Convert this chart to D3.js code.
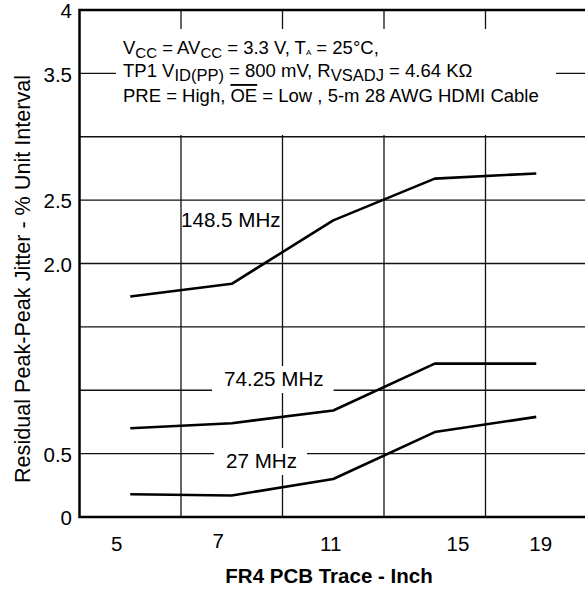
<!DOCTYPE html>
<html>
<head>
<meta charset="utf-8">
<script src="https://cdn.jsdelivr.net/npm/d3@7"></script>
<style>
  body { margin: 0; background: #fff; }
  text { font-family: "Liberation Sans", Arial, Helvetica, sans-serif; fill: #000; }
</style>
</head>
<body>
<div id="chartArea"></div>
<script>
// data
var traceLabels = ["5", "7", "11", "15", "19"]
var jitter148 = [1.74, 1.84, 2.34, 2.67, 2.71]
var jitter74 = [0.70, 0.74, 0.84, 1.21, 1.21]
var jitter27 = [0.18, 0.17, 0.30, 0.67, 0.79]
var seriesNames = ["148.5 MHz", "74.25 MHz", "27 MHz"]
var yTickValues = [0, 0.5, 2.0, 2.5, 3.5, 4]
var yTickLabels = ["0", "0.5", "2.0", "2.5", "3.5", "4"]
var yGridValues = [0.5, 1, 1.5, 2, 2.5, 3, 3.5]

// layout
var width = 585, height = 589
var plotLeft = 79.5, plotRight = 587, plotTop = 10, plotBottom = 517
var xLabelNudge = [-13.6, -13.5, -2.6, 23.2, 4.4]
var seriesLabelPos = [[181, 227, false], [224, 386, true], [226, 468, true]]

var svg = d3.select('#chartArea')
  .append('svg')
  .attr('width', width)
  .attr('height', height)

var x = d3.scaleBand()
  .domain(traceLabels)
  .range([plotLeft, plotRight])

var y = d3.scaleLinear()
  .domain([0, 4])
  .range([plotBottom, plotTop])

// grid
svg.append('g')
  .selectAll('line')
  .data(yGridValues)
  .enter()
  .append('line')
  .attr('x1', plotLeft).attr('x2', plotRight)
  .attr('y1', d => y(d)).attr('y2', d => y(d))
  .attr('stroke', '#111').attr('stroke-width', 1.3)

svg.append('g')
  .selectAll('line')
  .data(traceLabels.slice(1))
  .enter()
  .append('line')
  .attr('x1', d => x(d)).attr('x2', d => x(d))
  .attr('y1', plotTop).attr('y2', plotBottom)
  .attr('stroke', '#111').attr('stroke-width', 1.3)

// white box behind the conditions text
svg.append('rect')
  .attr('x', 116).attr('y', 29)
  .attr('width', 440).attr('height', 106)
  .attr('fill', '#fff')

// frame
svg.append('path')
  .attr('d', `M${plotRight},${plotTop}H${plotLeft}V${plotBottom}H${plotRight}`)
  .attr('fill', 'none')
  .attr('stroke', '#000')
  .attr('stroke-width', 2.5)

// y tick labels
svg.append('g')
  .selectAll('text')
  .data(yTickValues)
  .enter()
  .append('text')
  .attr('x', 72)
  .attr('y', d => y(d))
  .attr('dy', '0.4em')
  .attr('text-anchor', 'end')
  .style('font-size', '20.5px')
  .text((d, i) => yTickLabels[i])

// x tick labels
svg.append('g')
  .selectAll('text')
  .data(traceLabels)
  .enter()
  .append('text')
  .attr('x', (d, i) => x(d) + x.bandwidth() / 2 + xLabelNudge[i])
  .attr('y', (d, i) => i == 1 ? 548 : 551)
  .attr('text-anchor', 'middle')
  .style('font-size', '20.5px')
  .text(d => d)

// axis titles
svg.append('text')
  .attr('x', 329).attr('y', 583)
  .attr('text-anchor', 'middle')
  .style('font-size', '20.5px')
  .style('font-weight', 'bold')
  .text('FR4 PCB Trace - Inch')

svg.append('text')
  .attr('transform', 'translate(30,279) rotate(-90)')
  .attr('text-anchor', 'middle')
  .style('font-size', '21.6px')
  .text('Residual Peak-Peak Jitter - % Unit Interval')

// lines
var line = d3.line()
  .x((d, i) => x(traceLabels[i]) + x.bandwidth() / 2)
  .y(d => y(d))

var allSeries = [jitter148, jitter74, jitter27]

// series labels (with white backing where they sit on the grid)
allSeries.forEach((s, i) => {
  var p = seriesLabelPos[i]
  var t = svg.append('text')
    .attr('x', p[0]).attr('y', p[1])
    .style('font-size', '20.6px')
    .text(seriesNames[i])
  if (p[2]) {
    var b = t.node().getBBox()
    svg.insert('rect', function () { return t.node() })
      .attr('x', b.x - 12).attr('y', b.y - 1)
      .attr('width', b.width + 22).attr('height', b.height + 4)
      .attr('fill', '#fff')
  }
})

svg.append('g')
  .selectAll('path')
  .data(allSeries)
  .enter()
  .append('path')
  .attr('d', line)
  .attr('fill', 'none')
  .attr('stroke', '#000')
  .attr('stroke-width', 2.6)
  .attr('stroke-linejoin', 'round')

// conditions text, subscripts done with dy shifts
function condLine(yy, parts) {
  var t = svg.append('text')
    .attr('x', 123).attr('y', yy)
    .style('font-size', '18.5px')
  var shift = 0
  parts.forEach(p => {
    var dy = (p.dy || 0) - shift
    shift = p.dy || 0
    var ts = t.append('tspan').attr('dy', dy).text(p.t)
    if (p.size) ts.style('font-size', p.size)
    if (p.over) ts.style('text-decoration', 'overline')
  })
}

condLine(54, [
  { t: 'V' }, { t: 'CC', dy: 4, size: '15px' },
  { t: ' = AV' }, { t: 'CC', dy: 4, size: '15px' },
  { t: ' = 3.3 V, T' }, { t: 'A', dy: 1, size: '8px' },
  { t: ' = 25°C,' }
])
condLine(77, [
  { t: 'TP1 V' }, { t: 'ID(PP)', dy: 4, size: '16.5px' },
  { t: ' = 800 mV, R' }, { t: 'VSADJ', dy: 4, size: '16.5px' },
  { t: ' = 4.64 KΩ' }
])
condLine(102, [
  { t: 'PRE = High, ' }, { t: 'OE', over: true },
  { t: ' = Low , 5-m 28 AWG HDMI Cable' }
])
</script>
</body>
</html>
